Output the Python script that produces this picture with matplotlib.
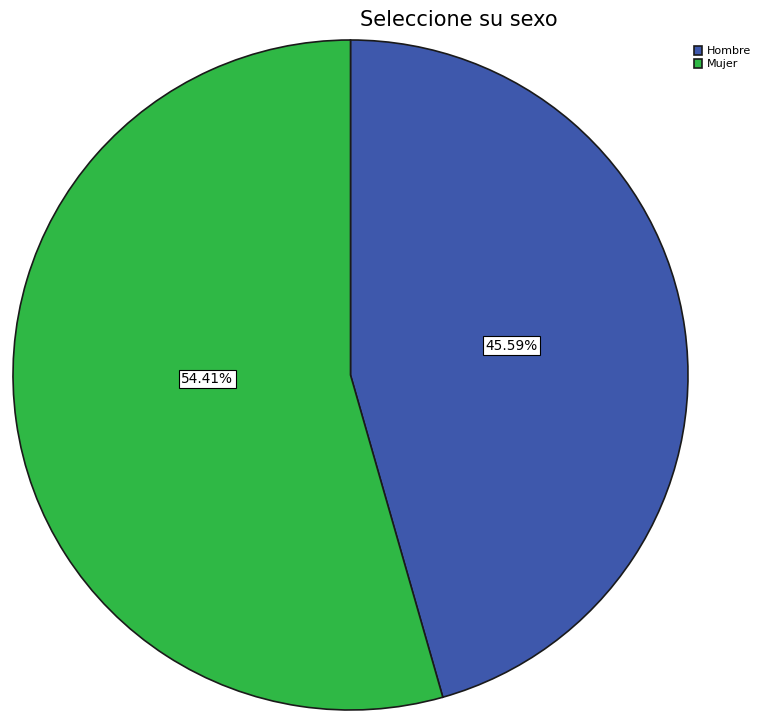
import matplotlib
matplotlib.use("Agg")
import matplotlib.pyplot as plt

plt.rcParams['font.family'] = ['DejaVu Sans']

# data
categories = ['Hombre', 'Mujer']
percentages = [45.59, 54.41]
colors = ['#3E58AC', '#2FB845']
chart_title = 'Seleccione su sexo'

# where the percentage boxes sit (pie data coords)
label_pos = [(0.476, 0.088), (-0.424, -0.012)]

fig = plt.figure(figsize=(7.66, 7.11), dpi=100)
fig.patch.set_facecolor('white')

# pie area
ax = fig.add_axes([13 / 766, 1 / 711, 675 / 766, 670 / 711])
wedges, texts, autotexts = ax.pie(
    percentages,
    colors=colors,
    startangle=90,
    counterclock=False,
    autopct=lambda p: f'{p:.2f}%',
    pctdistance=0.46,
    wedgeprops=dict(edgecolor='#1a1a1a', linewidth=1.2),
    textprops=dict(fontsize=9.8, color='black'),
)
for t, pos in zip(autotexts, label_pos):
    t.set_position(pos)
    t.set_bbox(dict(facecolor='white', edgecolor='black', linewidth=0.8, pad=1.8))
ax.set_xlim(-1.0, 1.0)
ax.set_ylim(-1.0, 1.0)
ax.set_aspect('auto')
ax.axis('off')

fig.text(459 / 766, 1 - 20 / 711, chart_title, ha='center', va='center',
         fontsize=15, fontweight='medium')

leg = fig.legend(wedges, categories, loc='upper left',
                 bbox_to_anchor=(686 / 766, 1 - 38 / 711),
                 frameon=False, fontsize=8, handlelength=0.75, handleheight=0.95,
                 handletextpad=0.4, labelspacing=0.2, borderpad=0.2)

plt.savefig('out.png', dpi=100)
plt.close()
